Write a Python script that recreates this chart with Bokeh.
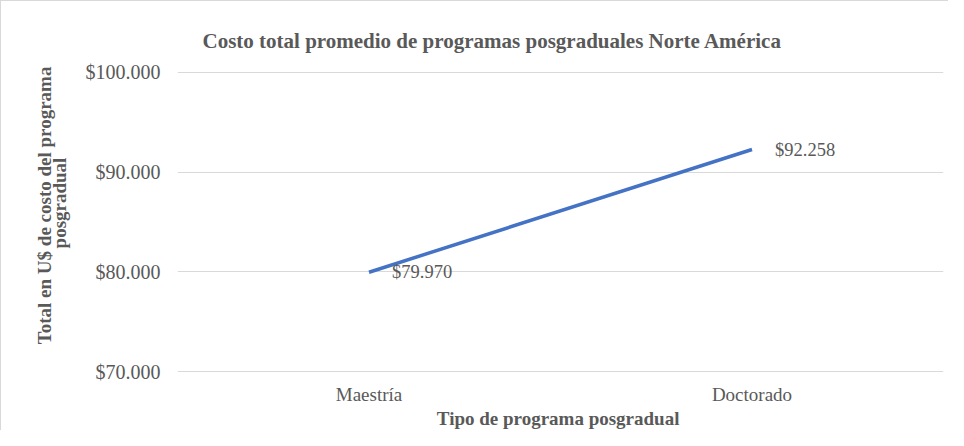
from bokeh.plotting import figure
from bokeh.models import ColumnDataSource, FixedTicker
from bokeh.core.properties import value
from bokeh.embed import file_html
from bokeh.resources import INLINE

# ---- data ----
tipos = ["Maestría", "Doctorado"]
costos = [79970, 92258]
etiquetas = ["$79.970", "$92.258"]
y_ticks = [70000, 80000, 90000, 100000]
y_tick_labels = ["$70.000", "$80.000", "$90.000", "$100.000"]

titulo = "Costo total promedio de programas posgraduales Norte América"
x_titulo = "Tipo  de programa posgradual"
PAD = "\u00a0" * 8  # pushes the rotated label slightly upward, as in the original
y_titulo = PAD + "Total en  U$ de costo del programa\n" + PAD + "posgradual"

FONT = "Liberation Serif"
TXT = "#595959"

src = ColumnDataSource(dict(x=tipos, y=costos, lab=etiquetas))

p = figure(width=948, height=430, x_range=tipos, y_range=(69930, 100070),
           output_backend="svg", toolbar_location=None,
           min_border_left=176, min_border_right=6, min_border_top=70,
           min_border_bottom=59)
p.x_range.range_padding = 0
p.outline_line_color = None
p.background_fill_color = "white"
p.border_fill_color = "white"
p.styles = {"border-left": "1px solid #D9D9D9", "border-top": "1px solid #D9D9D9"}

# chart title
p.title.text = titulo
p.title.align = "left"
p.title.offset = 25
p.title.standoff = 38
p.title.text_font = FONT
p.title.text_font_size = "21px"
p.title.text_font_style = "bold"
p.title.text_color = TXT

p.xgrid.grid_line_color = None
p.ygrid.grid_line_color = "#D9D9D9"
p.ygrid.grid_line_width = 1

p.yaxis.ticker = FixedTicker(ticks=y_ticks)
p.yaxis.major_label_overrides = {t: l for t, l in zip(y_ticks, y_tick_labels)}
for ax in (p.xaxis, p.yaxis):
    ax.axis_line_color = None
    ax.major_tick_line_color = None
    ax.minor_tick_line_color = None
    ax.major_label_text_font = FONT
    ax.major_label_text_font_size = "19px"
    ax.major_label_text_color = TXT
    ax.axis_label_text_font = FONT
    ax.axis_label_text_font_size = "19px"
    ax.axis_label_text_font_style = "bold"
    ax.axis_label_text_color = TXT
p.yaxis.major_label_text_font_size = "20px"
p.yaxis.major_label_standoff = 11
p.xaxis.major_label_standoff = 5

p.yaxis.axis_label = y_titulo
p.yaxis.axis_label_text_line_height = 0.7
p.yaxis.axis_label_standoff = 13

p.xaxis.axis_label = x_titulo
p.xaxis.axis_label_standoff = 0

p.line(x="x", y="y", source=src, line_color="#4472C4", line_width=3.5)
p.text(x="x", y="y", text="lab", source=src, x_offset=23,
       text_baseline="middle", text_align="left",
       text_font=value(FONT), text_font_size="18.5px", text_color=TXT)

open("out.html", "w").write(file_html(p, INLINE))
